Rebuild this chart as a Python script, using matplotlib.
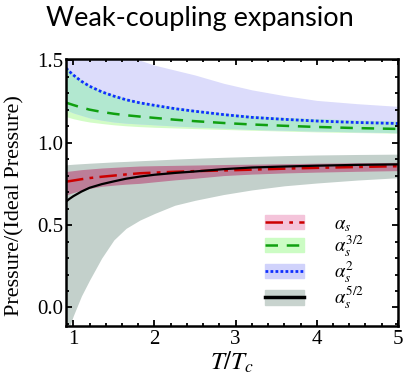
import matplotlib

matplotlib.use("Agg")
import matplotlib.pyplot as plt
import numpy as np
from matplotlib.lines import Line2D
from matplotlib.patches import Patch
from matplotlib.ticker import MultipleLocator

plt.rcParams["mathtext.fontset"] = "stix"
plt.rcParams["font.family"] = "Liberation Serif"

# T/Tc grid
t = [0.91, 0.95, 1.0, 1.1, 1.2, 1.35, 1.5, 1.65, 1.82, 2.0, 2.25, 2.5, 2.85, 3.2, 3.6, 4.0, 4.5, 5.0]

# order alpha_s
a1_mid = [0.763, 0.766, 0.770, 0.778, 0.785, 0.793, 0.800, 0.807, 0.814, 0.818, 0.823, 0.827, 0.831, 0.836, 0.842, 0.847, 0.852, 0.857]
a1_lo = [0.682, 0.689, 0.697, 0.711, 0.722, 0.735, 0.742, 0.748, 0.753, 0.762, 0.774, 0.784, 0.800, 0.809, 0.816, 0.821, 0.826, 0.830]
a1_hi = [0.824, 0.827, 0.830, 0.836, 0.840, 0.846, 0.850, 0.854, 0.858, 0.860, 0.862, 0.864, 0.867, 0.869, 0.872, 0.875, 0.878, 0.880]

# order alpha_s^(3/2)
a32_mid = [1.243, 1.236, 1.228, 1.213, 1.200, 1.186, 1.175, 1.166, 1.158, 1.150, 1.139, 1.130, 1.119, 1.110, 1.102, 1.095, 1.088, 1.083]
a32_lo = [1.158, 1.152, 1.145, 1.134, 1.125, 1.116, 1.108, 1.102, 1.097, 1.093, 1.089, 1.085, 1.080, 1.075, 1.070, 1.065, 1.061, 1.057]
a32_hi = [1.460, 1.440, 1.418, 1.380, 1.350, 1.316, 1.290, 1.268, 1.250, 1.234, 1.215, 1.200, 1.180, 1.165, 1.153, 1.145, 1.137, 1.130]

# order alpha_s^2
a2_mid = [1.452, 1.432, 1.410, 1.372, 1.342, 1.308, 1.282, 1.260, 1.241, 1.226, 1.206, 1.190, 1.170, 1.153, 1.141, 1.131, 1.122, 1.116]
a2_lo = [1.199, 1.190, 1.180, 1.165, 1.150, 1.136, 1.125, 1.118, 1.113, 1.108, 1.101, 1.095, 1.088, 1.080, 1.075, 1.070, 1.065, 1.060]
a2_hi = [1.95, 1.90, 1.85, 1.78, 1.72, 1.65, 1.60, 1.55, 1.50, 1.47, 1.44, 1.41, 1.36, 1.32, 1.285, 1.256, 1.236, 1.220]

# order alpha_s^(5/2)
a52_mid = [0.642, 0.658, 0.675, 0.703, 0.726, 0.748, 0.765, 0.781, 0.794, 0.805, 0.816, 0.825, 0.839, 0.849, 0.855, 0.860, 0.865, 0.868]
a52_lo = [-0.25, -0.12, -0.05, 0.07, 0.166, 0.30, 0.41, 0.48, 0.53, 0.57, 0.62, 0.65, 0.685, 0.713, 0.738, 0.755, 0.773, 0.787]
a52_hi = [0.865, 0.867, 0.869, 0.872, 0.875, 0.879, 0.883, 0.886, 0.890, 0.894, 0.900, 0.905, 0.911, 0.916, 0.921, 0.925, 0.928, 0.930]

labels = [r"$\alpha_s$", r"$\alpha_s^{3/2}$", r"$\alpha_s^{2}$", r"$\alpha_s^{5/2}$"]

fig = plt.figure(figsize=(4.04, 3.77), dpi=100)
ax = fig.add_axes([0.163, 0.135, 0.822, 0.708])

# bands
ax.fill_between(t, a52_lo, a52_hi, color="#c3d0cb", lw=0)
ax.fill_between(t, a1_lo, a1_hi, color="#bc7e98", lw=0)
ax.fill_between(t, a32_lo, a32_hi, color="#d2fcc6", lw=0)
ax.fill_between(t, a2_lo, a2_hi, color="#dcdcfb", lw=0)
overlap_lo = np.maximum(a32_lo, a2_lo)
overlap_hi = np.minimum(a32_hi, a2_hi)
ax.fill_between(t, overlap_lo, overlap_hi, color="#b2e8d0", lw=0)

# central curves
ax.plot(t, a1_mid, color="#cc0000", lw=1.8, dashes=(7, 2.5, 1.5, 2.5))
ax.plot(t, a32_mid, color="#10a010", lw=1.8, dashes=(5, 3.5))
ax.plot(t, a2_mid, color="#1030ff", lw=2.0, dashes=(1, 0.8))
ax.plot(t, a52_mid, color="black", lw=1.6)

ax.set_xlim(0.908, 5.0)
ax.set_ylim(-0.113, 1.506)
ax.xaxis.set_major_locator(MultipleLocator(1))
ax.xaxis.set_minor_locator(MultipleLocator(0.2))
ax.yaxis.set_major_locator(MultipleLocator(0.5))
ax.yaxis.set_minor_locator(MultipleLocator(0.1))
ax.set_yticks([0, 0.5, 1.0, 1.5])
ax.set_yticklabels(["0.0", "0.5", "1.0", "1.5"])
ax.tick_params(which="both", direction="in", top=True, right=True, width=1.3, labelsize=15, pad=3)
ax.tick_params(axis="y", pad=2)
ax.tick_params(which="major", length=4.5)
ax.tick_params(which="minor", length=2.5)
for s in ax.spines.values():
    s.set_linewidth(1.8)

ax.set_xlabel(r"$T/T_c$", fontsize=18, labelpad=0)
ax.set_ylabel("Pressure/(Ideal Pressure)", fontsize=16)
ax.yaxis.set_label_coords(-0.125, 0.45)
fig.text(0.495, 0.950, "Weak-coupling expansion", fontsize=19.5, family="Lato",
         ha="center", va="center")

handles = [
    (Patch(color="#f4c4da"), Line2D([], [], color="#cc0000", lw=1.8, dashes=(7, 2.5, 1.5, 2.5))),
    (Patch(color="#ccfcc4"), Line2D([], [], color="#10a010", lw=1.8, dashes=(5, 3.5))),
    (Patch(color="#d0d2fb"), Line2D([], [], color="#1030ff", lw=2.0, dashes=(1, 0.8))),
    (Patch(color="#c8d3ce"), Line2D([], [], color="black", lw=2.5)),
]
ax.legend(handles, labels, loc="upper left", bbox_to_anchor=(0.56, 0.465), frameon=False,
          fontsize=13.5, handlelength=2.1, handleheight=0.8, labelspacing=0.0, handletextpad=1.6,
          borderpad=0.2)

fig.savefig("out.png", dpi=100)
